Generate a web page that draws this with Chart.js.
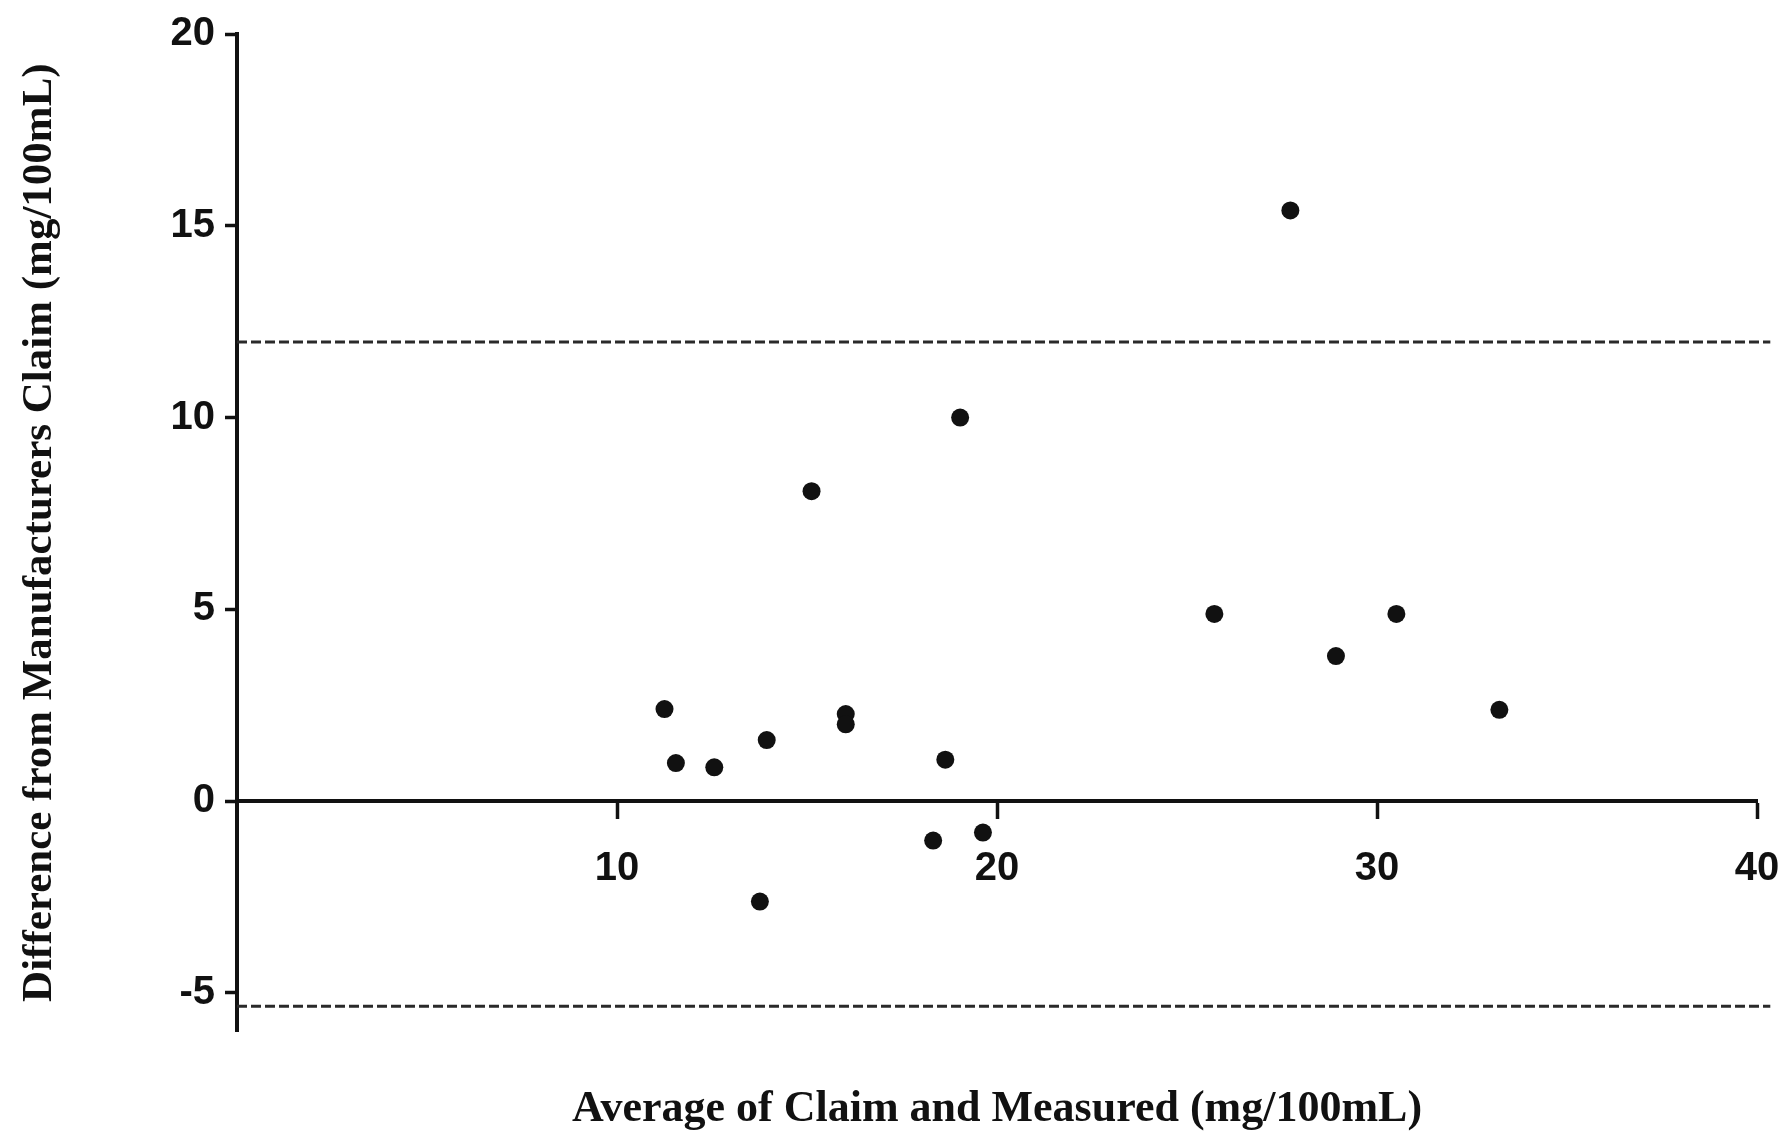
<!DOCTYPE html>
<html>
<head>
<meta charset="utf-8">
<script src="https://cdn.jsdelivr.net/npm/chart.js@4.4.1/dist/chart.umd.min.js"></script>
<style>
  html, body { margin: 0; padding: 0; background: #fff; }
  #wrap { width: 1785px; height: 1143px; position: relative; }
</style>
</head>
<body>
<div id="wrap"><canvas id="blandAltman"></canvas></div>
<script>
// ── Data ──
const avgValues  = [27.72, 19.03, 15.12, 25.72, 30.51, 28.92, 33.22, 11.25, 16.02, 16.02, 13.94, 11.55, 12.56, 18.64, 18.32, 19.63, 13.76];
const diffValues = [15.40, 10.00, 8.08, 4.88, 4.88, 3.78, 2.38, 2.40, 2.27, 2.00, 1.59, 0.99, 0.88, 1.08, -1.03, -0.82, -2.62];

const upperLimit = 11.97;
const lowerLimit = -5.35;
const limitSpan  = [0, 40.35];

const xTicks = [10, 20, 30, 40];
const yTicks = [-5, 0, 5, 10, 15, 20];

const xTitle = "Average of Claim and Measured (mg/100mL)";
const yTitle = "Difference from Manufacturers Claim (mg/100mL)";

// ── Build datasets ──
const points = avgValues.map((x, i) => ({ x, y: diffValues[i] }));
const limitLine = y => limitSpan.map(x => ({ x, y }));

const dashed = {
  type: "line",
  borderColor: "#2a2a2a",
  borderWidth: 2.8,
  borderDash: [10, 4],
  pointRadius: 0,
  fill: false,
  clip: false
};

Chart.defaults.color = "#111";
Chart.defaults.font.family = "'Liberation Sans', Arial, sans-serif";

new Chart(document.getElementById("blandAltman"), {
  type: "scatter",
  data: {
    datasets: [
      { ...dashed, data: limitLine(upperLimit) },
      { ...dashed, data: limitLine(lowerLimit) },
      {
        data: points,
        backgroundColor: "#111",
        borderWidth: 0,
        pointRadius: 9
      }
    ]
  },
  options: {
    responsive: true,
    maintainAspectRatio: false,
    animation: false,
    events: [],
    layout: { padding: { top: 33, right: 28, left: 0, bottom: 0 } },
    plugins: {
      legend: { display: false },
      tooltip: { enabled: false },
      title: {
        display: true,
        position: "bottom",
        fullSize: false,
        text: xTitle,
        color: "#111",
        font: { family: "'Liberation Serif', 'Times New Roman', serif", size: 44, weight: "bold" },
        padding: { top: 52, bottom: 7 }
      }
    },
    scales: {
      x: {
        type: "linear",
        position: { y: 0 },
        min: 0,
        max: 40,
        afterBuildTicks: s => { s.ticks = xTicks.map(value => ({ value })); },
        // axis sits on y = 0, so it takes no room of its own
        afterFit: s => { s.height = 0; s.paddingLeft = 0; s.paddingRight = 0; },
        grid: {
          drawOnChartArea: false,
          drawTicks: true,
          tickLength: 16,
          tickColor: "#111",
          tickWidth: 3.5
        },
        border: { display: true, color: "#111", width: 4 },
        ticks: {
          padding: 28,
          maxRotation: 0,
          font: { size: 40, weight: "bold" }
        }
      },
      y: {
        type: "linear",
        position: "left",
        min: -6,
        max: 20,
        afterBuildTicks: s => { s.ticks = yTicks.map(value => ({ value })); },
        afterFit: s => { s.width = 237; },
        grid: {
          drawOnChartArea: false,
          drawTicks: true,
          tickLength: 12,
          tickColor: "#111",
          tickWidth: 3.5
        },
        border: { display: true, color: "#111", width: 4 },
        ticks: {
          padding: 10,
          font: { size: 40, weight: "bold" }
        },
        title: {
          display: true,
          text: yTitle,
          color: "#111",
          font: { family: "'Liberation Serif', 'Times New Roman', serif", size: 43, weight: "bold" },
          padding: { top: 14, bottom: 0 }
        }
      }
    }
  }
});
</script>
</body>
</html>
